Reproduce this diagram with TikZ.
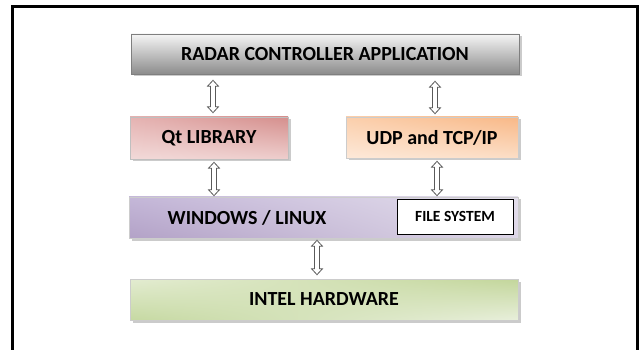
\documentclass[tikz,border=0pt]{standalone}
\usepackage{fontspec}
\setmainfont{Carlito}
\usetikzlibrary{calc,shadows,shadings}
\definecolor{radartop}{HTML}{F5F5F5}
\definecolor{radarbot}{HTML}{8C8C8C}
\definecolor{radarline}{HTML}{7F7F7F}
\definecolor{arrowline}{HTML}{5A5A5A}
\begin{document}
\begin{tikzpicture}[x=1pt,y=1pt,
  box/.style={rectangle, inner sep=0pt, line width=0.6pt,
    font=\fontsize{20}{24}\selectfont\bfseries,
    drop shadow={shadow xshift=2.5pt, shadow yshift=-2.5pt, fill=black!45, opacity=0.45}},
  blockarrow/.style={draw=arrowline, fill=white, line width=0.8pt, line join=miter,
    to path={let \p1=(\tikztostart), \p2=(\tikztotarget) in
      (\x1,\y1) -- ++(-5.5pt,-6pt) -- ++(3pt,0pt) -- (\x1-2.5pt,\y2+6pt) -- ++(-3pt,0pt)
      -- (\x1,\y2) -- ++(5.5pt,6pt) -- ++(-3pt,0pt) -- (\x1+2.5pt,\y1-6pt) -- ++(3pt,0pt) -- cycle}}]
\useasboundingbox (0,0) rectangle (643,-350);
\draw[line width=2.2pt] (12.5,-355) -- (12.5,-6.5) -- (637.5,-6.5) -- (637.5,-355);

\node[box, draw=radarline, top color=radartop, bottom color=radarbot,
  minimum width=388pt, minimum height=40pt] (radar) at (325,-54) {RADAR CONTROLLER APPLICATION};

\node[box, draw=black!25, upper left={rgb,255:red,229;green,179;blue,178},
  upper right={rgb,255:red,213;green,143;blue,141},
  lower left={rgb,255:red,242;green,218;blue,217},
  lower right={rgb,255:red,238;green,206;blue,205},
  minimum width=158pt, minimum height=42pt] (qt) at (209,-138) {Qt LIBRARY};

\node[box, draw=black!20, upper left={rgb,255:red,251;green,207;blue,172},
  upper right={rgb,255:red,248;green,184;blue,135},
  lower left={rgb,255:red,253;green,233;blue,217},
  lower right={rgb,255:red,252;green,222;blue,198},
  minimum width=172pt, minimum height=41pt] (udp) at (432,-137.5) {UDP and TCP/IP};

\node[box, draw=black!20, upper left={rgb,255:red,196;green,183;blue,216},
  upper right={rgb,255:red,228;green,223;blue,236},
  lower left={rgb,255:red,179;green,162;blue,199},
  lower right={rgb,255:red,221;green,214;blue,231},
  minimum width=389pt, minimum height=41pt,
  label={[font=\fontsize{20}{24}\selectfont\bfseries, xshift=-76.5pt]center:WINDOWS / LINUX}] (win) at (323.5,-217.5) {};

\node[draw=black, fill=white, line width=0.8pt, inner sep=0pt,
  font=\fontsize{15.5}{18}\selectfont\bfseries,
  minimum width=116pt, minimum height=35pt] (fs) at (455,-216.5) {FILE SYSTEM};

\node[box, draw=black!20, upper left={rgb,255:red,227;green,236;blue,209},
  upper right={rgb,255:red,195;green,214;blue,155},
  lower left={rgb,255:red,198;green,217;blue,162},
  lower right={rgb,255:red,232;green,239;blue,219},
  minimum width=388pt, minimum height=41pt] (intel) at (324,-299.5) {INTEL HARDWARE};

\draw[blockarrow] ($(radar.south -| qt.north)+(4,-6)$) to ($(qt.north)+(4,4)$);
\draw[blockarrow] ($(radar.south -| udp.north)+(3,-7)$) to ($(udp.north)+(3,3)$);
\draw[blockarrow] ($(qt.south)+(5,-3)$) to ($(win.north -| qt.south)+(5,1)$);
\draw[blockarrow] ($(udp.south)+(5,-3)$) to ($(win.north -| udp.south)+(5,1)$);
\draw[blockarrow] ($(win.south)+(-6.5,-2)$) to ($(intel.north -| win.south)+(-6.5,4)$);
\end{tikzpicture}
\end{document}
